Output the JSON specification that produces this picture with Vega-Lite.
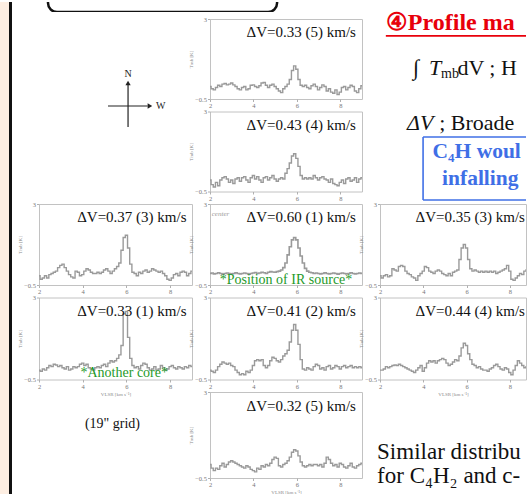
{
"$schema":"https://vega.github.io/schema/vega-lite/v6.json",
"padding":0,
"background":"white",
"bounds":"flush",
"spacing":27,
"config":{
 "font":"Liberation Serif",
 "view":{"stroke":"#c2c2c2","strokeWidth":1},
 "axis":{"domain":false,"grid":false,"labelOverlap":false,"labelFlush":false,"labelBound":false,"labelFontSize":6.5,"labelColor":"#777777","tickColor":"#b0b0b0","tickSize":2.5,"labelPadding":1,"titleFontSize":5,"titleColor":"#8a8a8a","titleFontWeight":"normal","titlePadding":1.5}
},
"datasets":{
"A":[{"v":2,"t":0.05},{"v":2.1,"t":-0.05},{"v":2.2,"t":-0.1},{"v":2.3,"t":0},{"v":2.4,"t":0.1},{"v":2.5,"t":0.05},{"v":2.6,"t":0.15},{"v":2.7,"t":0.18},{"v":2.8,"t":0.12},{"v":2.9,"t":0.15},{"v":3,"t":0.2},{"v":3.1,"t":0.12},{"v":3.2,"t":0.05},{"v":3.3,"t":-0.05},{"v":3.4,"t":-0.1},{"v":3.5,"t":0},{"v":3.6,"t":0.05},{"v":3.7,"t":-0.1},{"v":3.8,"t":-0.05},{"v":3.9,"t":0.1},{"v":4,"t":0.12},{"v":4.1,"t":0.05},{"v":4.2,"t":0},{"v":4.3,"t":0.08},{"v":4.4,"t":0.2},{"v":4.5,"t":0.22},{"v":4.6,"t":0.1},{"v":4.7,"t":0},{"v":4.8,"t":0.1},{"v":4.9,"t":0.15},{"v":5,"t":0.05},{"v":5.1,"t":-0.05},{"v":5.2,"t":-0.15},{"v":5.3,"t":-0.22},{"v":5.4,"t":-0.05},{"v":5.5,"t":0.05},{"v":5.6,"t":0.15},{"v":5.7,"t":0.35},{"v":5.8,"t":0.75},{"v":5.9,"t":0.95},{"v":6,"t":0.8},{"v":6.1,"t":0.35},{"v":6.2,"t":0.1},{"v":6.3,"t":0.05},{"v":6.4,"t":0.1},{"v":6.5,"t":0},{"v":6.6,"t":-0.05},{"v":6.7,"t":0.08},{"v":6.8,"t":0.15},{"v":6.9,"t":0.05},{"v":7,"t":-0.1},{"v":7.1,"t":0},{"v":7.2,"t":0.12},{"v":7.3,"t":0.05},{"v":7.4,"t":-0.15},{"v":7.5,"t":-0.05},{"v":7.6,"t":-0.2},{"v":7.7,"t":-0.25},{"v":7.8,"t":-0.1},{"v":7.9,"t":-0.3},{"v":8,"t":-0.2},{"v":8.1,"t":0},{"v":8.2,"t":0.05},{"v":8.3,"t":-0.1},{"v":8.4,"t":0},{"v":8.5,"t":0.1},{"v":8.6,"t":0.05},{"v":8.7,"t":-0.15},{"v":8.8,"t":-0.22},{"v":8.9,"t":-0.05},{"v":9,"t":0.08}],
"B":[{"v":2,"t":0},{"v":2.1,"t":-0.2},{"v":2.2,"t":-0.3},{"v":2.3,"t":-0.1},{"v":2.4,"t":-0.25},{"v":2.5,"t":0},{"v":2.6,"t":0.1},{"v":2.7,"t":0.15},{"v":2.8,"t":0.05},{"v":2.9,"t":-0.1},{"v":3,"t":0},{"v":3.1,"t":-0.15},{"v":3.2,"t":0.05},{"v":3.3,"t":0.1},{"v":3.4,"t":-0.05},{"v":3.5,"t":0.1},{"v":3.6,"t":0.15},{"v":3.7,"t":0},{"v":3.8,"t":-0.1},{"v":3.9,"t":0.1},{"v":4,"t":0.2},{"v":4.1,"t":0.05},{"v":4.2,"t":0.15},{"v":4.3,"t":0},{"v":4.4,"t":-0.1},{"v":4.5,"t":0.1},{"v":4.6,"t":0.15},{"v":4.7,"t":0},{"v":4.8,"t":0.1},{"v":4.9,"t":0.2},{"v":5,"t":0.05},{"v":5.1,"t":-0.05},{"v":5.2,"t":0.05},{"v":5.3,"t":0.1},{"v":5.4,"t":0.05},{"v":5.5,"t":0.3},{"v":5.6,"t":0.5},{"v":5.7,"t":0.75},{"v":5.8,"t":1.05},{"v":5.9,"t":1.15},{"v":6,"t":0.95},{"v":6.1,"t":0.6},{"v":6.2,"t":0.2},{"v":6.3,"t":0.05},{"v":6.4,"t":0.1},{"v":6.5,"t":0.05},{"v":6.6,"t":0.1},{"v":6.7,"t":0.05},{"v":6.8,"t":0.2},{"v":6.9,"t":0.1},{"v":7,"t":0},{"v":7.1,"t":0.1},{"v":7.2,"t":0.15},{"v":7.3,"t":0.05},{"v":7.4,"t":0},{"v":7.5,"t":-0.1},{"v":7.6,"t":0.05},{"v":7.7,"t":-0.15},{"v":7.8,"t":-0.2},{"v":7.9,"t":-0.25},{"v":8,"t":-0.1},{"v":8.1,"t":0},{"v":8.2,"t":-0.15},{"v":8.3,"t":0.05},{"v":8.4,"t":0.1},{"v":8.5,"t":-0.05},{"v":8.6,"t":0},{"v":8.7,"t":0.1},{"v":8.8,"t":-0.1},{"v":8.9,"t":0.05},{"v":9,"t":0.1}],
"C":[{"v":2,"t":-0.1},{"v":2.1,"t":-0.25},{"v":2.2,"t":-0.2},{"v":2.3,"t":-0.1},{"v":2.4,"t":-0.2},{"v":2.5,"t":-0.05},{"v":2.6,"t":0},{"v":2.7,"t":0.05},{"v":2.8,"t":0.1},{"v":2.9,"t":0.25},{"v":3,"t":0.35},{"v":3.1,"t":0.4},{"v":3.2,"t":0.25},{"v":3.3,"t":0.1},{"v":3.4,"t":-0.05},{"v":3.5,"t":-0.15},{"v":3.6,"t":-0.2},{"v":3.7,"t":0.1},{"v":3.8,"t":0.05},{"v":3.9,"t":-0.1},{"v":4,"t":-0.05},{"v":4.1,"t":0.1},{"v":4.2,"t":0.2},{"v":4.3,"t":0.15},{"v":4.4,"t":0.05},{"v":4.5,"t":0},{"v":4.6,"t":0},{"v":4.7,"t":0.05},{"v":4.8,"t":0},{"v":4.9,"t":0.05},{"v":5,"t":0.15},{"v":5.1,"t":0.2},{"v":5.2,"t":0.1},{"v":5.3,"t":0},{"v":5.4,"t":0.1},{"v":5.5,"t":0.2},{"v":5.6,"t":0.3},{"v":5.7,"t":0.45},{"v":5.8,"t":1},{"v":5.9,"t":1.55},{"v":6,"t":1.65},{"v":6.1,"t":1.1},{"v":6.2,"t":0.4},{"v":6.3,"t":0.05},{"v":6.4,"t":0},{"v":6.5,"t":-0.1},{"v":6.6,"t":0.05},{"v":6.7,"t":0},{"v":6.8,"t":0.1},{"v":6.9,"t":0.15},{"v":7,"t":0.05},{"v":7.1,"t":0.1},{"v":7.2,"t":0.2},{"v":7.3,"t":0.15},{"v":7.4,"t":0.1},{"v":7.5,"t":0.05},{"v":7.6,"t":0.1},{"v":7.7,"t":0},{"v":7.8,"t":-0.1},{"v":7.9,"t":-0.25},{"v":8,"t":-0.3},{"v":8.1,"t":-0.2},{"v":8.2,"t":-0.05},{"v":8.3,"t":0},{"v":8.4,"t":-0.1},{"v":8.5,"t":0.05},{"v":8.6,"t":0.1},{"v":8.7,"t":0.05},{"v":8.8,"t":-0.1},{"v":8.9,"t":0},{"v":9,"t":0.1}],
"D":[{"v":2,"t":0},{"v":2.1,"t":0.02},{"v":2.2,"t":-0.02},{"v":2.3,"t":0},{"v":2.4,"t":0.03},{"v":2.5,"t":0},{"v":2.6,"t":-0.03},{"v":2.7,"t":0},{"v":2.8,"t":0.02},{"v":2.9,"t":0},{"v":3,"t":-0.02},{"v":3.1,"t":0},{"v":3.2,"t":0.03},{"v":3.3,"t":0},{"v":3.4,"t":-0.02},{"v":3.5,"t":0},{"v":3.6,"t":0.02},{"v":3.7,"t":0},{"v":3.8,"t":-0.03},{"v":3.9,"t":0},{"v":4,"t":0.02},{"v":4.1,"t":0.04},{"v":4.2,"t":0},{"v":4.3,"t":0.02},{"v":4.4,"t":0.05},{"v":4.5,"t":0.03},{"v":4.6,"t":0},{"v":4.7,"t":0.05},{"v":4.8,"t":0.08},{"v":4.9,"t":0.06},{"v":5,"t":0.05},{"v":5.1,"t":0.08},{"v":5.2,"t":0.1},{"v":5.3,"t":0.15},{"v":5.4,"t":0.25},{"v":5.5,"t":0.45},{"v":5.6,"t":0.8},{"v":5.7,"t":1.15},{"v":5.8,"t":1.45},{"v":5.9,"t":1.55},{"v":6,"t":1.45},{"v":6.1,"t":1.1},{"v":6.2,"t":0.75},{"v":6.3,"t":0.45},{"v":6.4,"t":0.22},{"v":6.5,"t":0.1},{"v":6.6,"t":0.05},{"v":6.7,"t":0.03},{"v":6.8,"t":0},{"v":6.9,"t":0.02},{"v":7,"t":0},{"v":7.1,"t":-0.02},{"v":7.2,"t":0},{"v":7.3,"t":0.03},{"v":7.4,"t":0},{"v":7.5,"t":-0.02},{"v":7.6,"t":0},{"v":7.7,"t":0.02},{"v":7.8,"t":0},{"v":7.9,"t":-0.03},{"v":8,"t":0},{"v":8.1,"t":0.02},{"v":8.2,"t":0},{"v":8.3,"t":-0.02},{"v":8.4,"t":0},{"v":8.5,"t":0.03},{"v":8.6,"t":0},{"v":8.7,"t":-0.02},{"v":8.8,"t":0},{"v":8.9,"t":0.02},{"v":9,"t":0}],
"E":[{"v":2,"t":-0.1},{"v":2.1,"t":-0.2},{"v":2.2,"t":-0.1},{"v":2.3,"t":-0.05},{"v":2.4,"t":-0.15},{"v":2.5,"t":-0.1},{"v":2.6,"t":0.2},{"v":2.7,"t":0.15},{"v":2.8,"t":0.1},{"v":2.9,"t":0.3},{"v":3,"t":0.35},{"v":3.1,"t":0.3},{"v":3.2,"t":0.1},{"v":3.3,"t":0},{"v":3.4,"t":-0.05},{"v":3.5,"t":-0.15},{"v":3.6,"t":-0.2},{"v":3.7,"t":-0.3},{"v":3.8,"t":-0.1},{"v":3.9,"t":0},{"v":4,"t":0.1},{"v":4.1,"t":0.3},{"v":4.2,"t":0.25},{"v":4.3,"t":0.1},{"v":4.4,"t":0.05},{"v":4.5,"t":0},{"v":4.6,"t":0.1},{"v":4.7,"t":0.15},{"v":4.8,"t":0.1},{"v":4.9,"t":0},{"v":5,"t":-0.05},{"v":5.1,"t":-0.1},{"v":5.2,"t":0},{"v":5.3,"t":-0.1},{"v":5.4,"t":0.05},{"v":5.5,"t":0.1},{"v":5.6,"t":0.15},{"v":5.7,"t":0.6},{"v":5.8,"t":1.1},{"v":5.9,"t":1.25},{"v":6,"t":1.1},{"v":6.1,"t":0.6},{"v":6.2,"t":0.2},{"v":6.3,"t":0.1},{"v":6.4,"t":0.15},{"v":6.5,"t":0.1},{"v":6.6,"t":0.05},{"v":6.7,"t":0.1},{"v":6.8,"t":0.05},{"v":6.9,"t":0.1},{"v":7,"t":0.05},{"v":7.1,"t":0.1},{"v":7.2,"t":0.05},{"v":7.3,"t":0.1},{"v":7.4,"t":0},{"v":7.5,"t":0.05},{"v":7.6,"t":0.1},{"v":7.7,"t":0.15},{"v":7.8,"t":0.2},{"v":7.9,"t":0.35},{"v":8,"t":0.1},{"v":8.1,"t":-0.25},{"v":8.2,"t":-0.3},{"v":8.3,"t":-0.2},{"v":8.4,"t":-0.1},{"v":8.5,"t":0},{"v":8.6,"t":-0.05},{"v":8.7,"t":0.1},{"v":8.8,"t":0.15},{"v":8.9,"t":0.05},{"v":9,"t":0}],
"F":[{"v":2,"t":-0.1},{"v":2.1,"t":-0.15},{"v":2.2,"t":-0.05},{"v":2.3,"t":-0.1},{"v":2.4,"t":0},{"v":2.5,"t":0.1},{"v":2.6,"t":0.05},{"v":2.7,"t":0.15},{"v":2.8,"t":0.12},{"v":2.9,"t":0.05},{"v":3,"t":0.1},{"v":3.1,"t":0},{"v":3.2,"t":-0.05},{"v":3.3,"t":0.05},{"v":3.4,"t":-0.1},{"v":3.5,"t":-0.05},{"v":3.6,"t":0.05},{"v":3.7,"t":0},{"v":3.8,"t":0.05},{"v":3.9,"t":0.15},{"v":4,"t":0.2},{"v":4.1,"t":0.1},{"v":4.2,"t":0.15},{"v":4.3,"t":0},{"v":4.4,"t":-0.05},{"v":4.5,"t":-0.1},{"v":4.6,"t":0},{"v":4.7,"t":0.05},{"v":4.8,"t":0},{"v":4.9,"t":0.1},{"v":5,"t":0.15},{"v":5.1,"t":0.05},{"v":5.2,"t":0.2},{"v":5.3,"t":0.3},{"v":5.4,"t":0.25},{"v":5.5,"t":0.3},{"v":5.6,"t":0.4},{"v":5.7,"t":0.55},{"v":5.8,"t":0.95},{"v":5.9,"t":2.3},{"v":6,"t":2.4},{"v":6.1,"t":1.3},{"v":6.2,"t":0.4},{"v":6.3,"t":0.1},{"v":6.4,"t":0},{"v":6.5,"t":0.05},{"v":6.6,"t":-0.05},{"v":6.7,"t":0.1},{"v":6.8,"t":0.2},{"v":6.9,"t":0.15},{"v":7,"t":0},{"v":7.1,"t":-0.1},{"v":7.2,"t":-0.05},{"v":7.3,"t":0.05},{"v":7.4,"t":-0.1},{"v":7.5,"t":-0.05},{"v":7.6,"t":0.1},{"v":7.7,"t":0},{"v":7.8,"t":-0.1},{"v":7.9,"t":-0.05},{"v":8,"t":0.05},{"v":8.1,"t":0.1},{"v":8.2,"t":0},{"v":8.3,"t":-0.05},{"v":8.4,"t":0.05},{"v":8.5,"t":0},{"v":8.6,"t":-0.05},{"v":8.7,"t":0.05},{"v":8.8,"t":0},{"v":8.9,"t":0.1},{"v":9,"t":0.05}],
"G":[{"v":2,"t":-0.1},{"v":2.1,"t":-0.15},{"v":2.2,"t":-0.2},{"v":2.3,"t":-0.1},{"v":2.4,"t":0.05},{"v":2.5,"t":0.15},{"v":2.6,"t":0.25},{"v":2.7,"t":0.2},{"v":2.8,"t":0.15},{"v":2.9,"t":0.2},{"v":3,"t":0.1},{"v":3.1,"t":0.05},{"v":3.2,"t":-0.1},{"v":3.3,"t":-0.2},{"v":3.4,"t":-0.3},{"v":3.5,"t":-0.25},{"v":3.6,"t":-0.3},{"v":3.7,"t":-0.15},{"v":3.8,"t":-0.2},{"v":3.9,"t":-0.1},{"v":4,"t":0.1},{"v":4.1,"t":0.3},{"v":4.2,"t":0.35},{"v":4.3,"t":0.3},{"v":4.4,"t":0.35},{"v":4.5,"t":0.1},{"v":4.6,"t":0},{"v":4.7,"t":0.1},{"v":4.8,"t":0.3},{"v":4.9,"t":0.45},{"v":5,"t":0.4},{"v":5.1,"t":0.3},{"v":5.2,"t":0.25},{"v":5.3,"t":0.35},{"v":5.4,"t":0.5},{"v":5.5,"t":0.6},{"v":5.6,"t":0.75},{"v":5.7,"t":1.1},{"v":5.8,"t":1.6},{"v":5.9,"t":1.85},{"v":6,"t":1.6},{"v":6.1,"t":1},{"v":6.2,"t":0.35},{"v":6.3,"t":-0.05},{"v":6.4,"t":-0.1},{"v":6.5,"t":0},{"v":6.6,"t":-0.05},{"v":6.7,"t":-0.1},{"v":6.8,"t":0.05},{"v":6.9,"t":0.15},{"v":7,"t":0.1},{"v":7.1,"t":-0.05},{"v":7.2,"t":0},{"v":7.3,"t":-0.1},{"v":7.4,"t":0.05},{"v":7.5,"t":0.1},{"v":7.6,"t":-0.05},{"v":7.7,"t":0},{"v":7.8,"t":0.1},{"v":7.9,"t":0.05},{"v":8,"t":-0.05},{"v":8.1,"t":0.05},{"v":8.2,"t":0.1},{"v":8.3,"t":0},{"v":8.4,"t":0.05},{"v":8.5,"t":0.1},{"v":8.6,"t":0},{"v":8.7,"t":0.05},{"v":8.8,"t":0},{"v":8.9,"t":0.05},{"v":9,"t":0}],
"H":[{"v":2,"t":-0.1},{"v":2.1,"t":-0.1},{"v":2.2,"t":-0.05},{"v":2.3,"t":0.05},{"v":2.4,"t":0},{"v":2.5,"t":0.05},{"v":2.6,"t":0.1},{"v":2.7,"t":0.12},{"v":2.8,"t":0.1},{"v":2.9,"t":0.15},{"v":3,"t":0.1},{"v":3.1,"t":0.05},{"v":3.2,"t":0},{"v":3.3,"t":-0.05},{"v":3.4,"t":-0.1},{"v":3.5,"t":-0.15},{"v":3.6,"t":-0.2},{"v":3.7,"t":-0.1},{"v":3.8,"t":0},{"v":3.9,"t":0.1},{"v":4,"t":-0.15},{"v":4.1,"t":0},{"v":4.2,"t":0.2},{"v":4.3,"t":0.3},{"v":4.4,"t":0.25},{"v":4.5,"t":0.3},{"v":4.6,"t":0.2},{"v":4.7,"t":0.3},{"v":4.8,"t":0.35},{"v":4.9,"t":0.4},{"v":5,"t":0.35},{"v":5.1,"t":0.2},{"v":5.2,"t":0.1},{"v":5.3,"t":0.15},{"v":5.4,"t":0.25},{"v":5.5,"t":0.35},{"v":5.6,"t":0.3},{"v":5.7,"t":0.5},{"v":5.8,"t":0.85},{"v":5.9,"t":1.05},{"v":6,"t":0.95},{"v":6.1,"t":0.6},{"v":6.2,"t":0.35},{"v":6.3,"t":0.15},{"v":6.4,"t":0.1},{"v":6.5,"t":0},{"v":6.6,"t":0.05},{"v":6.7,"t":-0.05},{"v":6.8,"t":-0.1},{"v":6.9,"t":-0.1},{"v":7,"t":-0.15},{"v":7.1,"t":-0.05},{"v":7.2,"t":0},{"v":7.3,"t":0.1},{"v":7.4,"t":0.15},{"v":7.5,"t":0.05},{"v":7.6,"t":-0.05},{"v":7.7,"t":-0.1},{"v":7.8,"t":0},{"v":7.9,"t":-0.05},{"v":8,"t":-0.2},{"v":8.1,"t":-0.3},{"v":8.2,"t":-0.1},{"v":8.3,"t":0.1},{"v":8.4,"t":0.3},{"v":8.5,"t":0.2},{"v":8.6,"t":0.1},{"v":8.7,"t":0},{"v":8.8,"t":0.05},{"v":8.9,"t":0},{"v":9,"t":0}],
"I":[{"v":2,"t":0.05},{"v":2.1,"t":-0.1},{"v":2.2,"t":-0.2},{"v":2.3,"t":-0.1},{"v":2.4,"t":-0.15},{"v":2.5,"t":0},{"v":2.6,"t":0.1},{"v":2.7,"t":-0.05},{"v":2.8,"t":0.05},{"v":2.9,"t":0.15},{"v":3,"t":0.2},{"v":3.1,"t":0.15},{"v":3.2,"t":0.1},{"v":3.3,"t":0.05},{"v":3.4,"t":0},{"v":3.5,"t":-0.05},{"v":3.6,"t":-0.1},{"v":3.7,"t":0},{"v":3.8,"t":-0.05},{"v":3.9,"t":-0.15},{"v":4,"t":-0.2},{"v":4.1,"t":-0.25},{"v":4.2,"t":-0.1},{"v":4.3,"t":-0.15},{"v":4.4,"t":0},{"v":4.5,"t":-0.05},{"v":4.6,"t":0.05},{"v":4.7,"t":0},{"v":4.8,"t":0.1},{"v":4.9,"t":0.25},{"v":5,"t":0.35},{"v":5.1,"t":0.3},{"v":5.2,"t":0},{"v":5.3,"t":-0.05},{"v":5.4,"t":0.05},{"v":5.5,"t":0.1},{"v":5.6,"t":0.2},{"v":5.7,"t":0.35},{"v":5.8,"t":0.55},{"v":5.9,"t":0.65},{"v":6,"t":0.6},{"v":6.1,"t":0.4},{"v":6.2,"t":0.15},{"v":6.3,"t":0},{"v":6.4,"t":-0.05},{"v":6.5,"t":0},{"v":6.6,"t":0.05},{"v":6.7,"t":0},{"v":6.8,"t":0.05},{"v":6.9,"t":0.05},{"v":7,"t":0},{"v":7.1,"t":0.05},{"v":7.2,"t":-0.05},{"v":7.3,"t":0.1},{"v":7.4,"t":0.35},{"v":7.5,"t":0.25},{"v":7.6,"t":0.1},{"v":7.7,"t":0},{"v":7.8,"t":0.05},{"v":7.9,"t":-0.05},{"v":8,"t":0.1},{"v":8.1,"t":0.05},{"v":8.2,"t":-0.05},{"v":8.3,"t":-0.1},{"v":8.4,"t":0},{"v":8.5,"t":0.1},{"v":8.6,"t":-0.05},{"v":8.7,"t":-0.1},{"v":8.8,"t":0},{"v":8.9,"t":0.05},{"v":9,"t":0.1}]
},
"hconcat":[
 {"width":12,"height":494,"view":{"fill":"#fdeee2","stroke":null},"data":{"values":[{}]},"mark":{"type":"rule","color":"#111","strokeWidth":3},"encoding":{"x":{"datum":0.875,"type":"quantitative","scale":{"domain":[0,1]},"axis":null}}},
 {"bounds":"flush","spacing":7,"vconcat":[
  {"width":240,"height":10,"view":{"stroke":null},"data":{"values":[{}]},"mark":{"type":"rect","fill":"white","stroke":"#111","strokeWidth":2.5,"cornerRadius":9,"clip":true},"encoding":{"x":{"datum":0.0375,"type":"quantitative","scale":{"domain":[0,1]},"axis":null},"x2":{"datum":0.992},"y":{"datum":0,"type":"quantitative","scale":{"domain":[0,1]},"axis":null},"y2":{"datum":3}}},
  {"columns":3,"bounds":"flush","spacing":{"row":12.5,"column":18},"concat":[
   {"width":153,"height":80,"view":{"stroke":null},"data":{"values":[{}]},"layer":[
     {"mark":{"type":"rule","color":"#222","strokeWidth":1.2},"encoding":{"x":{"datum":0.582,"type":"quantitative","scale":{"domain":[0,1]},"axis":null},"y":{"datum":0.19,"type":"quantitative","scale":{"domain":[0,1]},"axis":null},"y2":{"datum":-0.35}}},
     {"mark":{"type":"rule","color":"#222","strokeWidth":1.2},"encoding":{"x":{"datum":0.451,"type":"quantitative"},"x2":{"datum":0.71},"y":{"datum":-0.0875,"type":"quantitative"}}},
     {"mark":{"type":"point","shape":"triangle-up","filled":true,"color":"#222","size":28,"opacity":1},"encoding":{"x":{"datum":0.582,"type":"quantitative"},"y":{"datum":0.2,"type":"quantitative"}}},
     {"mark":{"type":"point","shape":"triangle-right","filled":true,"color":"#222","size":28,"opacity":1},"encoding":{"x":{"datum":0.725,"type":"quantitative"},"y":{"datum":-0.0875,"type":"quantitative"}}},
     {"data":{"values":[{"s":"N"}]},"mark":{"type":"text","fontSize":10,"color":"#222","baseline":"middle"},"encoding":{"x":{"datum":0.582,"type":"quantitative"},"y":{"datum":0.31,"type":"quantitative"},"text":{"field":"s"}}},
     {"data":{"values":[{"s":"W"}]},"mark":{"type":"text","fontSize":10,"align":"left","baseline":"middle","color":"#222"},"encoding":{"x":{"datum":0.765,"type":"quantitative"},"y":{"datum":-0.0875,"type":"quantitative"},"text":{"field":"s"}}}
   ]},
   {"width":152,"height":80,"layer":[
     {"data":{"name":"A"},"mark":{"type":"line","interpolate":"step","color":"#9a9a9a","strokeWidth":1.4,"clip":true},"encoding":{"x":{"field":"v","type":"quantitative","scale":{"domain":[2,9],"nice":false,"zero":false},"axis":{"values":[2,3,4,5,6,7,8,9],"labelOverlap":false,"title":null}},"y":{"field":"t","type":"quantitative","scale":{"domain":[-0.5,3],"nice":false,"zero":false},"axis":{"values":[-0.5,0,0.5,1,1.5,2,2.5,3],"labelOverlap":false,"format":"~g","title":"Tmb [K]"}}}},
     {"data":{"values":[{"s":"ΔV=0.33 (5) km/s"}]},"mark":{"type":"text","align":"right","baseline":"middle","fontSize":15,"color":"#111"},"encoding":{"x":{"datum":8.72,"type":"quantitative"},"y":{"datum":2.42,"type":"quantitative"},"text":{"field":"s"}}}
   ]},
   {"width":146,"height":80,"view":{"stroke":null},"layer":[
     {"data":{"values":[{"s":"④Profile maps of C₄H"}]},"mark":{"type":"text","align":"left","baseline":"middle","fontSize":24,"fontWeight":"bold","color":"#e8000b","limit":140,"ellipsis":" "},"encoding":{"x":{"datum":0.04,"type":"quantitative","scale":{"domain":[0,1]},"axis":null},"y":{"datum":0.95,"type":"quantitative","scale":{"domain":[0,1]},"axis":null},"text":{"field":"s"}}},
     {"data":{"values":[{}]},"mark":{"type":"rule","color":"#e8000b","strokeWidth":1.8},"encoding":{"x":{"datum":0.04,"type":"quantitative"},"x2":{"datum":1},"y":{"datum":0.79,"type":"quantitative"}}},
     {"data":{"values":[{"s":"∫"}]},"mark":{"type":"text","align":"left","baseline":"middle","fontSize":22,"color":"#111"},"encoding":{"x":{"datum":0.226,"type":"quantitative"},"y":{"datum":0.39,"type":"quantitative"},"text":{"field":"s"}}},
     {"data":{"values":[{"s":"T"}]},"mark":{"type":"text","align":"left","baseline":"middle","fontSize":22,"fontStyle":"italic","color":"#111"},"encoding":{"x":{"datum":0.335,"type":"quantitative"},"y":{"datum":0.39,"type":"quantitative"},"text":{"field":"s"}}},
     {"data":{"values":[{"s":"mb"}]},"mark":{"type":"text","align":"left","baseline":"middle","fontSize":14,"color":"#111"},"encoding":{"x":{"datum":0.418,"type":"quantitative"},"y":{"datum":0.31,"type":"quantitative"},"text":{"field":"s"}}},
     {"data":{"values":[{"s":"dV ; High intensity"}]},"mark":{"type":"text","align":"left","baseline":"middle","fontSize":22,"color":"#111","limit":69,"ellipsis":" "},"encoding":{"x":{"datum":0.53,"type":"quantitative"},"y":{"datum":0.39,"type":"quantitative"},"text":{"field":"s"}}}
   ]},
   {"width":153,"height":80,"view":{"stroke":null},"data":{"values":[]},"mark":"point"},
   {"width":152,"height":80,"layer":[
     {"data":{"name":"B"},"mark":{"type":"line","interpolate":"step","color":"#9a9a9a","strokeWidth":1.4,"clip":true},"encoding":{"x":{"field":"v","type":"quantitative","scale":{"domain":[2,9],"nice":false,"zero":false},"axis":{"values":[2,3,4,5,6,7,8,9],"labelOverlap":false,"title":null}},"y":{"field":"t","type":"quantitative","scale":{"domain":[-0.5,3],"nice":false,"zero":false},"axis":{"values":[-0.5,0,0.5,1,1.5,2,2.5,3],"labelOverlap":false,"format":"~g","title":"Tmb [K]"}}}},
     {"data":{"values":[{"s":"ΔV=0.43 (4) km/s"}]},"mark":{"type":"text","align":"right","baseline":"middle","fontSize":15,"color":"#111"},"encoding":{"x":{"datum":8.72,"type":"quantitative"},"y":{"datum":2.42,"type":"quantitative"},"text":{"field":"s"}}}
   ]},
   {"width":146,"height":80,"view":{"stroke":null},"layer":[
     {"data":{"values":[{"s":"ΔV"}]},"mark":{"type":"text","align":"left","baseline":"middle","fontSize":22,"fontStyle":"italic","color":"#111"},"encoding":{"x":{"datum":0.185,"type":"quantitative","scale":{"domain":[0,1]},"axis":null},"y":{"datum":0.856,"type":"quantitative","scale":{"domain":[0,1]},"axis":null},"text":{"field":"s"}}},
     {"data":{"values":[{"s":"; Broader line width"}]},"mark":{"type":"text","align":"left","baseline":"middle","fontSize":22,"color":"#111","limit":86,"ellipsis":" "},"encoding":{"x":{"datum":0.405,"type":"quantitative"},"y":{"datum":0.856,"type":"quantitative"},"text":{"field":"s"}}},
     {"data":{"values":[{}]},"mark":{"type":"rule","color":"#3f6fe6","strokeWidth":1.6},"encoding":{"x":{"datum":0.295,"type":"quantitative"},"y":{"datum":0.681,"type":"quantitative"},"y2":{"datum":-0.106}}},
     {"data":{"values":[{}]},"mark":{"type":"rule","color":"#3f6fe6","strokeWidth":1.6},"encoding":{"x":{"datum":0.295,"type":"quantitative"},"x2":{"datum":1},"y":{"datum":0.681,"type":"quantitative"}}},
     {"data":{"values":[{}]},"mark":{"type":"rule","color":"#3f6fe6","strokeWidth":1.6},"encoding":{"x":{"datum":0.295,"type":"quantitative"},"x2":{"datum":1},"y":{"datum":-0.106,"type":"quantitative"}}},
     {"data":{"values":[{"s":"C₄H would be"}]},"mark":{"type":"text","align":"left","baseline":"middle","fontSize":21.5,"fontWeight":"bold","color":"#3f6fe6","limit":93,"ellipsis":"\u200b"},"encoding":{"x":{"datum":0.36,"type":"quantitative"},"y":{"datum":0.494,"type":"quantitative"},"text":{"field":"s"}}},
     {"data":{"values":[{"s":"infalling gas"}]},"mark":{"type":"text","align":"left","baseline":"middle","fontSize":21.5,"fontWeight":"bold","color":"#3f6fe6","limit":86,"ellipsis":"\u200b"},"encoding":{"x":{"datum":0.425,"type":"quantitative"},"y":{"datum":0.156,"type":"quantitative"},"text":{"field":"s"}}}
   ]},
   {"width":153,"height":81,"layer":[
     {"data":{"name":"C"},"mark":{"type":"line","interpolate":"step","color":"#9a9a9a","strokeWidth":1.4,"clip":true},"encoding":{"x":{"field":"v","type":"quantitative","scale":{"domain":[2,9],"nice":false,"zero":false},"axis":{"values":[2,3,4,5,6,7,8,9],"labelOverlap":false,"title":null}},"y":{"field":"t","type":"quantitative","scale":{"domain":[-0.5,3],"nice":false,"zero":false},"axis":{"values":[-0.5,0,0.5,1,1.5,2,2.5,3],"labelOverlap":false,"format":"~g","title":"Tmb [K]"}}}},
     {"data":{"values":[{"s":"ΔV=0.37 (3) km/s"}]},"mark":{"type":"text","align":"right","baseline":"middle","fontSize":15,"color":"#111"},"encoding":{"x":{"datum":8.75,"type":"quantitative"},"y":{"datum":2.42,"type":"quantitative"},"text":{"field":"s"}}}
   ]},
   {"width":152,"height":81,"layer":[
     {"data":{"name":"D"},"mark":{"type":"line","interpolate":"step","color":"#9a9a9a","strokeWidth":1.6,"clip":true},"encoding":{"x":{"field":"v","type":"quantitative","scale":{"domain":[2,9],"nice":false,"zero":false},"axis":{"values":[2,3,4,5,6,7,8,9],"labelOverlap":false,"title":null}},"y":{"field":"t","type":"quantitative","scale":{"domain":[-0.5,3],"nice":false,"zero":false},"axis":{"values":[-0.5,0,0.5,1,1.5,2,2.5,3],"labelOverlap":false,"format":"~g","title":"Tmb [K]"}}}},
     {"data":{"values":[{"s":"ΔV=0.60 (1) km/s"}]},"mark":{"type":"text","align":"right","baseline":"middle","fontSize":15,"color":"#111"},"encoding":{"x":{"datum":8.72,"type":"quantitative"},"y":{"datum":2.42,"type":"quantitative"},"text":{"field":"s"}}},
     {"data":{"values":[{"s":"center"}]},"mark":{"type":"text","align":"left","baseline":"middle","fontSize":7,"fontStyle":"italic","color":"#999"},"encoding":{"x":{"datum":2.08,"type":"quantitative"},"y":{"datum":2.56,"type":"quantitative"},"text":{"field":"s"}}},
     {"data":{"values":[{"s":"*Position of IR source*"}]},"mark":{"type":"text","align":"center","baseline":"middle","fontSize":14,"color":"#1f9a2a"},"encoding":{"x":{"datum":5.5,"type":"quantitative"},"y":{"datum":-0.3,"type":"quantitative"},"text":{"field":"s"}}}
   ]},
   {"width":146,"height":81,"layer":[
     {"data":{"name":"E"},"mark":{"type":"line","interpolate":"step","color":"#9a9a9a","strokeWidth":1.4,"clip":true},"encoding":{"x":{"field":"v","type":"quantitative","scale":{"domain":[2,8.75],"nice":false,"zero":false},"axis":{"values":[2,3,4,5,6,7,8],"labelOverlap":false,"title":null}},"y":{"field":"t","type":"quantitative","scale":{"domain":[-0.5,3],"nice":false,"zero":false},"axis":{"values":[-0.5,0,0.5,1,1.5,2,2.5,3],"labelOverlap":false,"format":"~g","title":"Tmb [K]"}}}},
     {"data":{"values":[{"s":"ΔV=0.35 (3) km/s"}]},"mark":{"type":"text","align":"right","baseline":"middle","fontSize":15,"color":"#111"},"encoding":{"x":{"datum":8.7,"type":"quantitative"},"y":{"datum":2.42,"type":"quantitative"},"text":{"field":"s"}}}
   ]},
   {"width":153,"height":82,"layer":[
     {"data":{"name":"F"},"mark":{"type":"line","interpolate":"step","color":"#9a9a9a","strokeWidth":1.4,"clip":true},"encoding":{"x":{"field":"v","type":"quantitative","scale":{"domain":[2,9],"nice":false,"zero":false},"axis":{"values":[2,3,4,5,6,7,8,9],"labelOverlap":false,"title":"VLSR [km s⁻¹]"}},"y":{"field":"t","type":"quantitative","scale":{"domain":[-0.5,3],"nice":false,"zero":false},"axis":{"values":[-0.5,0,0.5,1,1.5,2,2.5,3],"labelOverlap":false,"format":"~g","title":"Tmb [K]"}}}},
     {"data":{"values":[{"s":"ΔV=0.33 (1) km/s"}]},"mark":{"type":"text","align":"right","baseline":"middle","fontSize":15,"color":"#111"},"encoding":{"x":{"datum":8.75,"type":"quantitative"},"y":{"datum":2.42,"type":"quantitative"},"text":{"field":"s"}}},
     {"data":{"values":[{"s":"*Another core*"}]},"mark":{"type":"text","align":"center","baseline":"middle","fontSize":14,"color":"#1f9a2a"},"encoding":{"x":{"datum":5.9,"type":"quantitative"},"y":{"datum":-0.22,"type":"quantitative"},"text":{"field":"s"}}}
   ]},
   {"width":152,"height":82,"layer":[
     {"data":{"name":"G"},"mark":{"type":"line","interpolate":"step","color":"#9a9a9a","strokeWidth":1.4,"clip":true},"encoding":{"x":{"field":"v","type":"quantitative","scale":{"domain":[2,9],"nice":false,"zero":false},"axis":{"values":[2,3,4,5,6,7,8,9],"labelOverlap":false,"title":null}},"y":{"field":"t","type":"quantitative","scale":{"domain":[-0.5,3],"nice":false,"zero":false},"axis":{"values":[-0.5,0,0.5,1,1.5,2,2.5,3],"labelOverlap":false,"format":"~g","title":"Tmb [K]"}}}},
     {"data":{"values":[{"s":"ΔV=0.41 (2) km/s"}]},"mark":{"type":"text","align":"right","baseline":"middle","fontSize":15,"color":"#111"},"encoding":{"x":{"datum":8.72,"type":"quantitative"},"y":{"datum":2.42,"type":"quantitative"},"text":{"field":"s"}}}
   ]},
   {"width":146,"height":82,"layer":[
     {"data":{"name":"H"},"mark":{"type":"line","interpolate":"step","color":"#9a9a9a","strokeWidth":1.4,"clip":true},"encoding":{"x":{"field":"v","type":"quantitative","scale":{"domain":[2,8.75],"nice":false,"zero":false},"axis":{"values":[2,3,4,5,6,7,8],"labelOverlap":false,"title":"VLSR [km s⁻¹]"}},"y":{"field":"t","type":"quantitative","scale":{"domain":[-0.5,3],"nice":false,"zero":false},"axis":{"values":[-0.5,0,0.5,1,1.5,2,2.5,3],"labelOverlap":false,"format":"~g","title":"Tmb [K]"}}}},
     {"data":{"values":[{"s":"ΔV=0.44 (4) km/s"}]},"mark":{"type":"text","align":"right","baseline":"middle","fontSize":15,"color":"#111"},"encoding":{"x":{"datum":8.7,"type":"quantitative"},"y":{"datum":2.42,"type":"quantitative"},"text":{"field":"s"}}}
   ]},
   {"width":153,"height":86,"view":{"stroke":null},"data":{"values":[{"s":"(19\" grid)"}]},"mark":{"type":"text","align":"center","baseline":"middle","fontSize":14,"color":"#111"},"encoding":{"x":{"datum":0.48,"type":"quantitative","scale":{"domain":[0,1]},"axis":null},"y":{"datum":0.63,"type":"quantitative","scale":{"domain":[0,1]},"axis":null},"text":{"field":"s"}}},
   {"width":152,"height":86,"layer":[
     {"data":{"name":"I"},"mark":{"type":"line","interpolate":"step","color":"#9a9a9a","strokeWidth":1.4,"clip":true},"encoding":{"x":{"field":"v","type":"quantitative","scale":{"domain":[2,9],"nice":false,"zero":false},"axis":{"values":[2,3,4,5,6,7,8,9],"labelOverlap":false,"title":"VLSR [km s⁻¹]"}},"y":{"field":"t","type":"quantitative","scale":{"domain":[-0.5,3],"nice":false,"zero":false},"axis":{"values":[-0.5,0,0.5,1,1.5,2,2.5,3],"labelOverlap":false,"format":"~g","title":"Tmb [K]"}}}},
     {"data":{"values":[{"s":"ΔV=0.32 (5) km/s"}]},"mark":{"type":"text","align":"right","baseline":"middle","fontSize":15,"color":"#111"},"encoding":{"x":{"datum":8.72,"type":"quantitative"},"y":{"datum":2.42,"type":"quantitative"},"text":{"field":"s"}}}
   ]},
   {"width":146,"height":86,"view":{"stroke":null},"layer":[
     {"data":{"values":[{"s":"Similar distributions"}]},"mark":{"type":"text","align":"left","baseline":"middle","fontSize":23,"color":"#111","limit":150,"ellipsis":" "},"encoding":{"x":{"datum":-0.02,"type":"quantitative","scale":{"domain":[0,1]},"axis":null},"y":{"datum":0.3,"type":"quantitative","scale":{"domain":[0,1]},"axis":null},"text":{"field":"s"}}},
     {"data":{"values":[{"s":"for C₄H₂ and c-C₃H₂"}]},"mark":{"type":"text","align":"left","baseline":"middle","fontSize":23,"color":"#111","limit":150,"ellipsis":" "},"encoding":{"x":{"datum":-0.02,"type":"quantitative"},"y":{"datum":0.02,"type":"quantitative"},"text":{"field":"s"}}}
   ]}
  ]}
 ]}
]
}
